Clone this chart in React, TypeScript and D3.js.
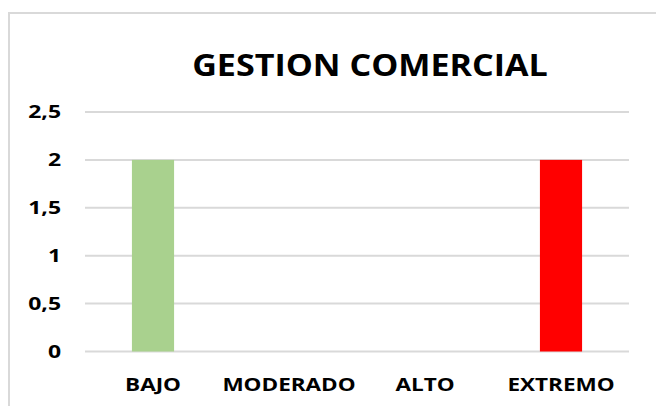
import React from "react";
import * as d3 from "d3";

const categories = ["BAJO", "MODERADO", "ALTO", "EXTREMO"];
const values = [2, 0, 0, 2];
const barColors = ["#a9d18e", "#ffc000", "#ff9900", "#ff0000"];
const yTicks = [0, 0.5, 1, 1.5, 2, 2.5];
const title = "GESTION COMERCIAL";

const W = 656;
const H = 406;
const FONT = "'Open Sans', sans-serif";

export default function App() {
  const x = d3.scaleBand<string>().domain(categories).range([85, 629]).paddingInner(0.69).paddingOuter(0.345);
  const y = d3.scaleLinear().domain([0, 2.5]).range([351.5, 112]);
  const fmt = (v: number) => String(v).replace(".", ",");
  return (
    <svg width={W} height={H} style={{ position: "absolute", left: 0, top: 0, background: "#fff" }}>
      <rect x={9} y={13} width={W + 20} height={H + 20} fill="#fff" stroke="#d9d9d9" strokeWidth={2} />
      <g transform="translate(370,76) scale(1.1,1)">
        <text x={0} y={0} textAnchor="middle" fontFamily={FONT} fontWeight={700} fontSize={31} fill="#000">
          {title}
        </text>
      </g>
      {yTicks.map((t) => (
        <g key={t}>
          <line x1={85} x2={629} y1={y(t)} y2={y(t)} stroke="#d9d9d9" strokeWidth={2} />
          <g transform={`translate(61,${y(t)}) scale(1.35,1)`}>
            <text x={0} y={0} dy="0.36em" textAnchor="end" fontFamily={FONT} fontWeight={700} fontSize={17} fill="#000">
              {fmt(t)}
            </text>
          </g>
        </g>
      ))}
      {categories.map((c, i) => (
        <g key={c}>
          {values[i] > 0 && (
            <rect x={x(c)} y={y(values[i])} width={x.bandwidth()} height={y(0) - y(values[i])} fill={barColors[i]} />
          )}
          <g transform={`translate(${(x(c) as number) + x.bandwidth() / 2},391) scale(1.25,1)`}>
            <text x={0} y={0} textAnchor="middle" fontFamily={FONT} fontWeight={700} fontSize={18} fill="#000">
              {c}
            </text>
          </g>
        </g>
      ))}
    </svg>
  );
}
